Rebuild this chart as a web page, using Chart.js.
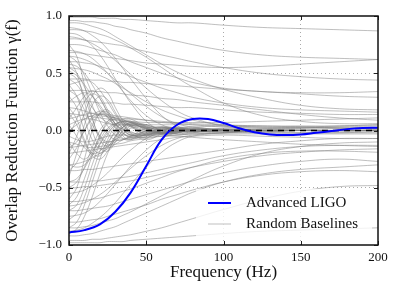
<!DOCTYPE html>
<html>
<head>
<meta charset="utf-8">
<script src="https://cdn.jsdelivr.net/npm/chart.js@4.4.0/dist/chart.umd.min.js"></script>
<style>
  html, body { margin: 0; padding: 0; background: #fff; }
  #wrap { width: 399px; height: 296px; }
</style>
</head>
<body>
<div id="wrap"><canvas id="chart"></canvas></div>
<script>
// frequency samples (Hz)
var ligoFreq = [0,10,20,30,40,50,60,70,80,90,100,110,120,130,140,150,160,170,180,190,200];
var ligoGamma = [-0.89,-0.87,-0.82,-0.71,-0.54,-0.31,-0.08,0.05,0.10,0.10,0.065,0.02,-0.015,-0.035,-0.04,-0.035,-0.02,-0.005,0.012,0.022,0.025];

var baseFreq = [0,5,10,15,20,25,30,35,40,50,60,70,80,100,125,150,175,200];
var randomBaselines = [
  [0.99,0.99,0.99,0.99,0.98,0.98,0.98,0.97,0.97,0.96,0.95,0.94,0.94,0.92,0.90,0.89,0.88,0.87],
  [0.96,0.96,0.95,0.95,0.94,0.93,0.91,0.90,0.88,0.85,0.81,0.78,0.75,0.70,0.66,0.64,0.63,0.62],
  [0.94,0.94,0.93,0.91,0.89,0.86,0.82,0.78,0.74,0.66,0.58,0.51,0.45,0.36,0.28,0.22,0.19,0.18],
  [0.90,0.89,0.87,0.83,0.78,0.71,0.63,0.54,0.45,0.28,0.13,0.04,0.00,-0.02,0.01,0.00,0.00,0.01],
  [0.88,0.88,0.87,0.86,0.84,0.82,0.79,0.76,0.72,0.64,0.55,0.46,0.38,0.24,0.13,0.08,0.06,0.06],
  [0.85,0.84,0.80,0.74,0.66,0.56,0.45,0.34,0.24,0.08,0.00,-0.03,-0.02,0.02,0.00,0.01,0.00,0.00],
  [0.82,0.81,0.79,0.76,0.72,0.67,0.61,0.55,0.49,0.37,0.26,0.17,0.11,0.04,0.02,0.03,0.03,0.02],
  [0.80,0.80,0.79,0.78,0.77,0.76,0.75,0.74,0.72,0.69,0.66,0.63,0.60,0.55,0.50,0.47,0.45,0.44],
  [0.75,0.75,0.74,0.72,0.70,0.68,0.66,0.63,0.60,0.55,0.50,0.46,0.42,0.37,0.34,0.33,0.33,0.34],
  [0.70,0.69,0.67,0.63,0.57,0.50,0.42,0.34,0.26,0.13,0.05,0.01,0.00,0.01,-0.01,0.00,0.00,0.00],
  [0.68,0.68,0.67,0.66,0.65,0.64,0.63,0.62,0.61,0.59,0.58,0.57,0.56,0.55,0.56,0.58,0.60,0.62],
  [0.65,0.64,0.62,0.59,0.55,0.50,0.44,0.38,0.32,0.21,0.12,0.06,0.03,0.01,0.01,0.02,0.02,0.01],
  [0.60,0.60,0.59,0.58,0.56,0.54,0.52,0.50,0.47,0.42,0.37,0.33,0.29,0.24,0.20,0.18,0.17,0.16],
  [0.55,0.54,0.53,0.51,0.48,0.45,0.41,0.37,0.33,0.25,0.18,0.13,0.09,0.05,0.03,0.03,0.04,0.05],
  [0.45,0.45,0.45,0.44,0.44,0.43,0.43,0.42,0.42,0.41,0.40,0.39,0.38,0.36,0.34,0.32,0.30,0.29],
  [0.35,0.35,0.35,0.34,0.34,0.33,0.33,0.32,0.31,0.30,0.28,0.27,0.25,0.22,0.18,0.14,0.11,0.09],
  [0.25,0.25,0.25,0.25,0.24,0.24,0.24,0.23,0.23,0.22,0.21,0.20,0.20,0.18,0.16,0.15,0.14,0.14],
  [-0.98,-0.98,-0.98,-0.98,-0.98,-0.97,-0.97,-0.97,-0.96,-0.95,-0.94,-0.93,-0.92,-0.90,-0.88,-0.87,-0.86,-0.85],
  [-0.96,-0.96,-0.96,-0.95,-0.95,-0.94,-0.93,-0.92,-0.91,-0.88,-0.85,-0.81,-0.77,-0.69,-0.60,-0.53,-0.49,-0.48],
  [-0.92,-0.92,-0.91,-0.90,-0.88,-0.86,-0.84,-0.81,-0.78,-0.72,-0.66,-0.60,-0.54,-0.45,-0.38,-0.34,-0.32,-0.30],
  [-0.88,-0.87,-0.85,-0.81,-0.76,-0.70,-0.63,-0.55,-0.47,-0.32,-0.19,-0.10,-0.05,-0.02,0.00,0.00,-0.01,0.00],
  [-0.85,-0.85,-0.84,-0.83,-0.81,-0.79,-0.77,-0.74,-0.71,-0.64,-0.57,-0.50,-0.43,-0.31,-0.20,-0.14,-0.11,-0.10],
  [-0.80,-0.80,-0.79,-0.78,-0.77,-0.75,-0.73,-0.71,-0.69,-0.65,-0.60,-0.56,-0.52,-0.45,-0.39,-0.36,-0.35,-0.36],
  [-0.75,-0.74,-0.72,-0.68,-0.62,-0.55,-0.47,-0.39,-0.31,-0.17,-0.07,-0.02,0.00,0.01,0.00,0.00,0.00,0.00],
  [-0.70,-0.70,-0.69,-0.68,-0.67,-0.66,-0.64,-0.62,-0.60,-0.56,-0.52,-0.48,-0.44,-0.37,-0.31,-0.27,-0.25,-0.27],
  [-0.66,-0.65,-0.63,-0.60,-0.56,-0.51,-0.45,-0.39,-0.33,-0.22,-0.13,-0.07,-0.04,-0.02,-0.02,-0.02,-0.02,-0.02],
  [-0.62,-0.62,-0.61,-0.60,-0.59,-0.57,-0.55,-0.53,-0.51,-0.46,-0.41,-0.36,-0.32,-0.25,-0.20,-0.18,-0.18,-0.19],
  [-0.55,-0.54,-0.52,-0.48,-0.43,-0.37,-0.30,-0.23,-0.17,-0.07,-0.02,0.00,0.01,0.00,0.00,0.00,0.00,0.00],
  [-0.50,-0.50,-0.49,-0.49,-0.48,-0.47,-0.46,-0.45,-0.44,-0.41,-0.38,-0.35,-0.32,-0.27,-0.22,-0.19,-0.17,-0.16],
  [-0.45,-0.45,-0.45,-0.44,-0.44,-0.43,-0.42,-0.41,-0.40,-0.37,-0.34,-0.31,-0.28,-0.22,-0.17,-0.14,-0.13,-0.13],
  [-0.35,-0.35,-0.34,-0.34,-0.33,-0.32,-0.31,-0.30,-0.29,-0.27,-0.25,-0.23,-0.21,-0.17,-0.12,-0.09,-0.07,-0.07],
  [-0.30,-0.29,-0.27,-0.24,-0.20,-0.16,-0.12,-0.08,-0.05,-0.01,0.00,0.00,0.00,0.00,0.00,0.00,0.00,0.00],
  [0.75,0.65,0.40,0.12,-0.08,-0.14,-0.08,0.00,0.04,0.02,-0.02,0.00,0.01,0.00,0.00,0.00,0.00,0.00],
  [0.65,0.60,0.48,0.32,0.16,0.04,-0.04,-0.07,-0.06,0.00,0.03,0.01,-0.01,0.00,0.00,0.00,0.00,0.00],
  [0.62,0.50,0.25,0.00,-0.15,-0.18,-0.10,0.00,0.06,0.04,-0.02,-0.02,0.01,0.00,0.00,0.00,0.00,0.00],
  [0.58,0.56,0.50,0.40,0.28,0.16,0.06,-0.02,-0.06,-0.05,0.00,0.02,0.01,0.00,0.00,0.00,0.00,0.00],
  [0.55,0.50,0.38,0.22,0.08,-0.03,-0.08,-0.08,-0.05,0.02,0.03,0.00,-0.02,0.01,0.00,0.00,0.00,0.00],
  [0.52,0.48,0.40,0.30,0.20,0.11,0.05,0.01,-0.02,-0.03,-0.01,0.01,0.01,0.00,0.00,0.00,0.00,0.00],
  [0.50,0.45,0.30,0.10,-0.05,-0.12,-0.10,-0.03,0.04,0.05,0.00,-0.03,-0.01,0.01,0.00,0.00,0.00,0.00],
  [0.45,0.40,0.30,0.20,0.12,0.07,0.05,0.05,0.05,0.03,0.00,-0.01,-0.01,0.00,0.00,0.00,0.00,0.00],
  [0.40,0.42,0.44,0.42,0.35,0.25,0.14,0.05,-0.01,-0.04,0.00,0.02,0.01,0.00,0.00,0.00,0.00,0.00],
  [0.40,0.30,0.10,-0.08,-0.16,-0.14,-0.05,0.03,0.06,0.02,-0.02,-0.01,0.01,0.00,0.00,0.00,0.00,0.00],
  [0.35,0.30,0.18,0.05,-0.05,-0.10,-0.08,-0.03,0.02,0.03,0.00,-0.01,0.00,0.00,0.00,0.00,0.00,0.00],
  [0.30,0.20,0.00,-0.15,-0.20,-0.15,-0.05,0.05,0.08,0.02,-0.03,-0.01,0.01,0.00,0.00,0.00,0.00,0.00],
  [0.25,0.30,0.33,0.30,0.22,0.12,0.03,-0.03,-0.05,-0.02,0.02,0.01,0.00,0.00,0.00,0.00,0.00,0.00],
  [0.20,0.10,-0.08,-0.20,-0.22,-0.12,0.00,0.08,0.08,0.00,-0.03,0.00,0.01,0.00,0.00,0.00,0.00,0.00],
  [0.15,0.05,-0.10,-0.22,-0.25,-0.18,-0.07,0.03,0.07,0.03,-0.02,-0.01,0.00,0.00,0.00,0.00,0.00,0.00],
  [0.10,0.20,0.30,0.35,0.30,0.18,0.05,-0.05,-0.08,-0.03,0.03,0.02,-0.01,0.00,0.00,0.00,0.00,0.00],
  [0.05,-0.05,-0.15,-0.20,-0.18,-0.10,-0.02,0.03,0.05,0.02,-0.02,-0.01,0.00,0.00,0.00,0.00,0.00,0.00],
  [-0.05,0.10,0.25,0.32,0.28,0.15,0.02,-0.07,-0.08,0.00,0.03,0.00,-0.01,0.00,0.00,0.00,0.00,0.00],
  [-0.10,-0.20,-0.25,-0.18,-0.05,0.08,0.12,0.10,0.04,-0.04,-0.03,0.01,0.02,0.00,0.00,0.00,0.00,0.00],
  [-0.15,-0.10,0.00,0.10,0.14,0.12,0.06,0.00,-0.04,-0.04,0.00,0.02,0.00,-0.01,0.00,0.00,0.00,0.00],
  [-0.20,-0.05,0.15,0.30,0.37,0.33,0.20,0.08,-0.02,-0.08,-0.03,0.02,0.03,0.00,-0.01,0.00,0.00,0.00],
  [-0.25,-0.15,0.00,0.12,0.17,0.14,0.06,-0.02,-0.06,-0.03,0.02,0.02,0.00,0.00,0.00,0.00,0.00,0.00],
  [-0.30,-0.32,-0.30,-0.22,-0.12,-0.02,0.05,0.08,0.07,0.01,-0.03,-0.02,0.01,0.01,0.00,0.00,0.00,0.00],
  [-0.35,-0.28,-0.12,0.05,0.15,0.16,0.09,0.01,-0.04,-0.04,0.01,0.01,0.00,0.00,0.00,0.00,0.00,0.00],
  [-0.40,-0.20,0.05,0.22,0.30,0.27,0.16,0.05,-0.03,-0.06,0.00,0.03,0.01,-0.01,0.00,0.00,0.00,0.00],
  [-0.45,-0.42,-0.33,-0.20,-0.08,0.02,0.06,0.06,0.04,-0.01,-0.02,0.00,0.01,0.00,0.00,0.00,0.00,0.00],
  [-0.50,-0.45,-0.32,-0.15,0.00,0.08,0.10,0.07,0.03,-0.03,-0.02,0.01,0.01,0.00,0.00,0.00,0.00,0.00],
  [-0.60,-0.50,-0.25,0.00,0.15,0.18,0.10,0.02,-0.04,-0.04,0.01,0.02,0.00,0.00,0.00,0.00,0.00,0.00],
  [-0.65,-0.58,-0.42,-0.22,-0.05,0.06,0.10,0.08,0.04,-0.02,-0.03,0.00,0.01,0.00,0.00,0.00,0.00,0.00],
  [-0.70,-0.65,-0.50,-0.30,-0.12,0.00,0.06,0.07,0.05,0.00,-0.02,-0.01,0.01,0.00,0.00,0.00,0.00,0.00],
  [-0.78,-0.72,-0.58,-0.38,-0.18,-0.04,0.05,0.08,0.07,0.01,-0.02,-0.01,0.01,0.00,0.00,0.00,0.00,0.00],
  [-0.85,-0.80,-0.65,-0.45,-0.25,-0.08,0.04,0.10,0.10,0.03,-0.03,-0.02,0.01,0.01,0.00,0.00,0.00,0.00],
  [-0.90,-0.86,-0.75,-0.58,-0.38,-0.20,-0.06,0.03,0.07,0.05,0.00,-0.02,0.00,0.00,0.00,0.00,0.00,0.00],
  [0.20,0.19,0.17,0.15,0.13,0.12,0.11,0.10,0.10,0.09,0.08,0.07,0.06,0.05,0.04,0.04,0.04,0.05],
  [0.15,0.14,0.13,0.12,0.11,0.10,0.09,0.08,0.08,0.07,0.07,0.07,0.07,0.07,0.08,0.09,0.10,0.11],
  [0.10,0.12,0.14,0.15,0.15,0.14,0.13,0.12,0.11,0.09,0.07,0.06,0.05,0.03,0.02,0.02,0.03,0.04],
  [0.05,0.08,0.10,0.10,0.08,0.06,0.05,0.05,0.05,0.05,0.05,0.05,0.05,0.04,0.03,0.03,0.02,0.02],
  [0.00,0.05,0.10,0.13,0.14,0.13,0.11,0.09,0.07,0.04,0.02,0.02,0.03,0.04,0.04,0.03,0.02,0.02],
  [-0.05,-0.08,-0.10,-0.09,-0.07,-0.05,-0.04,-0.04,-0.04,-0.04,-0.04,-0.04,-0.03,-0.02,-0.02,-0.02,-0.02,-0.01],
  [-0.10,-0.12,-0.14,-0.15,-0.14,-0.13,-0.12,-0.11,-0.09,-0.07,-0.05,-0.04,-0.03,-0.03,-0.03,-0.03,-0.03,-0.03],
  [-0.15,-0.14,-0.13,-0.12,-0.11,-0.10,-0.09,-0.08,-0.07,-0.06,-0.05,-0.05,-0.06,-0.08,-0.10,-0.12,-0.13,-0.14],
  [-0.20,-0.19,-0.18,-0.17,-0.16,-0.15,-0.14,-0.13,-0.12,-0.10,-0.08,-0.06,-0.05,-0.04,-0.05,-0.06,-0.07,-0.07]
];
var zeroLine = [0, 0];
var zeroFreq = [0, 200];
var xTicks = [0, 50, 100, 150, 200];
var yTicks = [-1, -0.5, 0, 0.5, 1];

var serif = "'Liberation Serif', 'DejaVu Serif', serif";

function pts(xs, ys){
  return xs.map(function(x, i){ return {x: x, y: ys[i]}; });
}

var datasets = [];
datasets.push({
  label: 'Advanced LIGO',
  data: pts(ligoFreq, ligoGamma),
  borderColor: 'rgb(0, 0, 255)',
  borderWidth: 2,
  tension: 0.4,
  pointRadius: 0
});
datasets.push({
  label: 'zero',
  data: pts(zeroFreq, zeroLine),
  borderColor: 'black',
  borderWidth: 1.5,
  borderDash: [6, 5],
  pointRadius: 0
});
randomBaselines.forEach(function(b, i){
  datasets.push({
    label: i == 0 ? 'Random Baselines' : '',
    data: pts(baseFreq, b),
    borderColor: 'rgba(128, 128, 128, 0.5)',
    borderWidth: 1,
    tension: 0.4,
    pointRadius: 0
  });
});

var frame = {
  id: 'frame',
  afterDraw: function(chart){
    var c = chart.ctx, a = chart.chartArea;
    var xs = chart.scales.x, ys = chart.scales.y;
    c.save();
    // inner tick marks
    c.strokeStyle = '#222';
    c.lineWidth = 1;
    xTicks.forEach(function(v){
      var px = Math.round(xs.getPixelForValue(v)) + 0.5;
      c.beginPath();
      c.moveTo(px, a.top); c.lineTo(px, a.top + 4);
      c.moveTo(px, a.bottom); c.lineTo(px, a.bottom - 4);
      c.stroke();
    });
    yTicks.forEach(function(v){
      var py = Math.round(ys.getPixelForValue(v)) + 0.5;
      c.beginPath();
      c.moveTo(a.left, py); c.lineTo(a.left + 4, py);
      c.moveTo(a.right, py); c.lineTo(a.right - 4, py);
      c.stroke();
    });
    c.strokeStyle = '#111';
    c.lineWidth = 1.5;
    c.strokeRect(a.left, a.top, a.right - a.left, a.bottom - a.top);

    // legend
    c.fillStyle = 'rgba(255,255,255,0.8)';
    c.fillRect(196, 189, 176, 50);
    c.lineWidth = 2;
    c.strokeStyle = 'rgb(0,0,255)';
    c.beginPath(); c.moveTo(208, 203); c.lineTo(231, 203); c.stroke();
    c.lineWidth = 1;
    c.strokeStyle = 'rgba(128,128,128,0.5)';
    c.beginPath(); c.moveTo(208, 224); c.lineTo(231, 224); c.stroke();
    c.fillStyle = '#111';
    c.font = '15px ' + serif;
    c.textBaseline = 'middle';
    c.fillText('Advanced LIGO', 246, 203);
    c.fillText('Random Baselines', 246, 224);
    c.restore();
  }
};

var ctx = document.getElementById('chart').getContext('2d');
var chart = new Chart(ctx, {
  type: 'line',
  data: { datasets: datasets },
  plugins: [frame],
  options: {
    responsive: true,
    maintainAspectRatio: false,
    animation: false,
    layout: { padding: { left: 0, right: 21, top: 16, bottom: 0 } },
    plugins: {
      legend: { display: false },
      tooltip: { enabled: false }
    },
    scales: {
      x: {
        type: 'linear',
        min: 0,
        max: 200,
        afterFit: function(s){ s.height = 51; },
        afterBuildTicks: function(s){ s.ticks = xTicks.map(function(v){ return {value: v}; }); },
        ticks: {
          padding: 5,
          color: '#111',
          font: { family: serif, size: 13 },
          maxRotation: 0
        },
        grid: {
          drawTicks: false,
          color: function(c){ return (c.tick && (c.tick.value == 0 || c.tick.value == 200)) ? 'rgba(0,0,0,0)' : '#aaa'; },
          lineWidth: 1
        },
        border: { display: false, dash: [1, 3] },
        title: {
          display: true,
          text: 'Frequency (Hz)',
          color: '#111',
          font: { family: serif, size: 17 },
          padding: { top: 0, bottom: 13 }
        }
      },
      y: {
        min: -1,
        max: 1,
        afterFit: function(s){ s.width = 69; },
        afterBuildTicks: function(s){ s.ticks = yTicks.map(function(v){ return {value: v}; }); },
        ticks: {
          padding: 7,
          color: '#111',
          font: { family: serif, size: 13 },
          callback: function(v){ return Number(v).toFixed(1).replace('-', '\u2212'); }
        },
        grid: {
          drawTicks: false,
          color: function(c){ return (c.tick && Math.abs(c.tick.value) == 1) ? 'rgba(0,0,0,0)' : '#aaa'; },
          lineWidth: 1
        },
        border: { display: false, dash: [1, 3] },
        title: {
          display: true,
          text: 'Overlap Reduction Function \u03b3(f)',
          color: '#111',
          font: { family: serif, size: 17 },
          padding: { top: 2, bottom: 0 }
        }
      }
    }
  }
});
</script>
</body>
</html>
